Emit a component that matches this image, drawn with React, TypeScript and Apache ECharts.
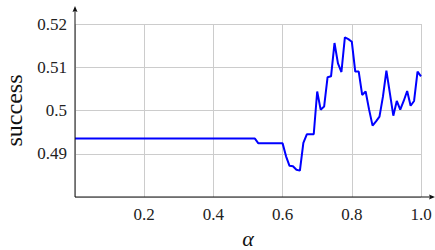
import React, { useEffect, useRef } from "react";
import * as echarts from "echarts";

const alphaValues = [
  0.0, 0.52, 0.53, 0.6, 0.61, 0.62, 0.63, 0.64, 0.65, 0.66, 0.67, 0.68, 0.69,
  0.7, 0.71, 0.72, 0.73, 0.74, 0.75, 0.76, 0.77, 0.78, 0.79, 0.8, 0.81, 0.82,
  0.83, 0.84, 0.85, 0.86, 0.87, 0.88, 0.89, 0.9, 0.91, 0.92, 0.93, 0.94, 0.95,
  0.96, 0.97, 0.98, 0.99, 1.0,
];
const successValues = [
  0.4935, 0.4935, 0.4924, 0.4924, 0.4894, 0.4872, 0.4871, 0.4863, 0.4861,
  0.4925, 0.4945, 0.4945, 0.4945, 0.5044, 0.5002, 0.5009, 0.5077, 0.5079,
  0.5156, 0.5109, 0.5089, 0.5169, 0.5165, 0.5159, 0.509, 0.509, 0.5036,
  0.5044, 0.5002, 0.4965, 0.4975, 0.4986, 0.5032, 0.5092, 0.504, 0.4988,
  0.5022, 0.5002, 0.5022, 0.5045, 0.5011, 0.5022, 0.509, 0.5079,
];
const xRange = [0, 1.0];
const yRange = [0.48, 0.52];
const xTickStep = 0.2;
const yTickStep = 0.01;

const FONT = "Liberation Serif";

export default function App() {
  const ref = useRef<HTMLDivElement>(null);
  useEffect(() => {
    if (!ref.current) return;
    const chart = echarts.init(ref.current, undefined, { renderer: "svg" });
    const data = alphaValues.map((a, i) => [a, successValues[i]]);
    chart.setOption({
      animation: false,
      textStyle: { fontFamily: FONT },
      grid: { left: 75, right: 14, top: 24, bottom: 53, outerBoundsMode: "none", containLabel: false },
      xAxis: {
        type: "value",
        min: xRange[0],
        max: xRange[1],
        interval: xTickStep,
        name: "α",
        nameLocation: "middle",
        nameGap: 37,
        nameTextStyle: {
          fontFamily: FONT,
          fontSize: 22,
          lineHeight: 22,
          fontStyle: "italic",
          color: "#111",
          verticalAlign: "middle",
        },
        axisLine: { show: false },
        axisTick: { show: false },
        splitLine: { show: true, lineStyle: { color: "#cccccc", width: 1 } },
        axisLabel: {
          fontFamily: FONT,
          fontSize: 17,
          color: "#222",
          margin: 9,
          showMinLabel: false,
          formatter: (v: number) => (v === 0 ? "" : v.toFixed(1)),
        },
      },
      yAxis: {
        type: "value",
        min: yRange[0],
        max: yRange[1],
        interval: yTickStep,
        name: "success",
        nameLocation: "middle",
        nameGap: 46,
        nameRotate: 90,
        nameTextStyle: { fontFamily: FONT, fontSize: 24, color: "#111" },
        axisLine: { show: false },
        axisTick: { show: false },
        splitLine: { show: true, lineStyle: { color: "#cccccc", width: 1 } },
        axisLabel: {
          fontFamily: FONT,
          fontSize: 17,
          color: "#222",
          margin: 8,
          showMinLabel: false,
          formatter: (v: number) => {
            const r = Math.round(v * 100) / 100;
            return r <= 0.48 ? "" : String(r);
          },
        },
      },
      series: [
        {
          type: "line",
          data,
          showSymbol: false,
          lineStyle: { color: "#0000ff", width: 2 },
          itemStyle: { color: "#0000ff" },
        },
      ],
    });
    const o = chart.convertToPixel({ gridIndex: 0 }, [xRange[0], yRange[0]]) as number[];
    const c = chart.convertToPixel({ gridIndex: 0 }, [xRange[1], yRange[1]]) as number[];
    const xTip = c[0] + 14;
    const yTip = c[1] - 18;
    const axisStyle = { stroke: "#111", lineWidth: 1 };
    chart.setOption({
      graphic: [
        { type: "line", shape: { x1: o[0], y1: o[1], x2: xTip - 2, y2: o[1] }, style: axisStyle, z: 100 },
        { type: "line", shape: { x1: o[0], y1: o[1], x2: o[0], y2: yTip + 2 }, style: axisStyle, z: 100 },
        {
          type: "polygon",
          shape: { points: [[xTip, o[1]], [xTip - 6, o[1] - 2.5], [xTip - 5, o[1]], [xTip - 6, o[1] + 2.5]] },
          style: { fill: "#111" },
          z: 100,
        },
        {
          type: "polygon",
          shape: { points: [[o[0], yTip], [o[0] - 2.5, yTip + 6], [o[0], yTip + 5], [o[0] + 2.5, yTip + 6]] },
          style: { fill: "#111" },
          z: 100,
        },
      ],
    });
    return () => chart.dispose();
  }, []);
  return (
    <div
      ref={ref}
      style={{ position: "absolute", left: 0, top: 0, width: 435, height: 250 }}
    />
  );
}
